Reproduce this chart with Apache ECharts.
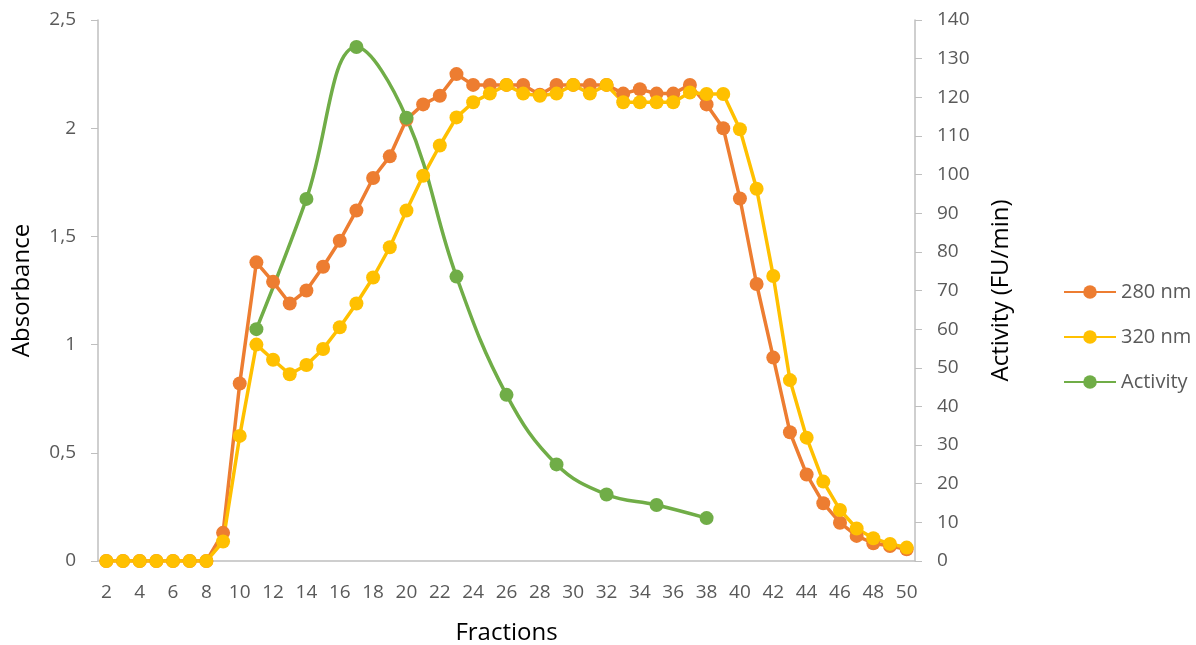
<!DOCTYPE html>
<html>
<head>
<meta charset="utf-8">
<script src="https://cdn.jsdelivr.net/npm/echarts@6/dist/echarts.min.js"></script>
<style>
  html, body { margin: 0; padding: 0; background: #fff; }
  #chart { width: 1196px; height: 645px; }
</style>
</head>
<body>
<div id="chart"></div>
<script>
  // fractions 2..50
  var fractions = [];
  for (var f = 2; f <= 50; f++) fractions.push(String(f));

  var abs280 = [0, 0, 0, 0, 0, 0, 0, 0.13, 0.82, 1.38, 1.29, 1.19, 1.25, 1.36, 1.48, 1.62, 1.77, 1.87, 2.04, 2.11, 2.15, 2.25,
    2.2, 2.2, 2.2, 2.2, 2.155, 2.2, 2.2, 2.2, 2.2, 2.16, 2.18, 2.16, 2.16, 2.2, 2.11, 2.0, 1.675, 1.28, 0.94, 0.595,
    0.4, 0.267, 0.177, 0.116, 0.082, 0.069, 0.054];

  var abs320 = [0, 0, 0, 0, 0, 0, 0, 0.09, 0.578, 1.0, 0.93, 0.863, 0.906, 0.98, 1.08, 1.19, 1.31, 1.45, 1.62, 1.78, 1.92, 2.05,
    2.12, 2.16, 2.2, 2.16, 2.15, 2.16, 2.2, 2.16, 2.2, 2.12, 2.12, 2.12, 2.12, 2.165, 2.158, 2.158, 1.995, 1.72, 1.317, 0.836,
    0.57, 0.367, 0.236, 0.15, 0.105, 0.079, 0.062];

  // activity measured only on some fractions
  var activityFractions = ["11", "14", "17", "20", "23", "26", "29", "32", "35", "38"];
  var activityValues = [60, 93.7, 133, 114.7, 73.6, 43, 25, 17.2, 14.5, 11.1];

  var activity = activityFractions.map(function (c, i) {
    return [c, activityValues[i]];
  });

  var axisGray = "#BFBFBF";
  var textGray = "#595959";

  var chart = echarts.init(document.getElementById("chart"));
  chart.setOption({
    animation: false,
    textStyle: { fontFamily: "Open Sans, Noto Sans, sans-serif" },
    grid: { left: 98, right: 281, top: 20, bottom: 84, outerBoundsMode: "none" },
    legend: {
      orient: "vertical",
      left: 1058,
      top: 277,
      itemGap: 25,
      itemWidth: 52,
      itemHeight: 17,
      textStyle: { fontSize: 20, color: textGray },
      data: ["280 nm", "320 nm", "Activity"]
    },
    xAxis: {
      type: "category",
      data: fractions,
      boundaryGap: true,
      name: "Fractions",
      nameLocation: "middle",
      nameGap: 60,
      nameTextStyle: { fontSize: 24, color: "#000" },
      axisLine: { lineStyle: { color: axisGray, width: 1.5 } },
      axisTick: { alignWithLabel: false, interval: 0, length: 7, lineStyle: { color: axisGray } },
      axisLabel: { interval: 1, fontSize: 19, color: textGray, margin: 22 }
    },
    yAxis: [{
      type: "value",
      min: 0,
      max: 2.5,
      interval: 0.5,
      name: "Absorbance",
      nameLocation: "middle",
      nameGap: 64,
      nameTextStyle: { fontSize: 24, color: "#000" },
      axisLine: { show: true, lineStyle: { color: axisGray, width: 1.5 } },
      axisTick: { show: true, length: 7, lineStyle: { color: axisGray } },
      splitLine: { show: false },
      axisLabel: {
        fontSize: 19, color: textGray, margin: 22,
        formatter: function (v) { return String(v).replace(".", ","); }
      }
    }, {
      type: "value",
      min: 0,
      max: 140,
      interval: 10,
      name: "Activity (FU/min)",
      nameLocation: "middle",
      nameGap: 74,
      nameRotate: 90,
      nameTextStyle: { fontSize: 24, color: "#000" },
      axisLine: { show: true, lineStyle: { color: axisGray, width: 1.5 } },
      axisTick: { show: true, length: 7, lineStyle: { color: axisGray } },
      splitLine: { show: false },
      axisLabel: { fontSize: 19, color: textGray, margin: 22 }
    }],
    series: [{
      name: "280 nm",
      type: "line",
      data: abs280,
      yAxisIndex: 0,
      symbol: "circle",
      symbolSize: 14,
      showAllSymbol: true,
      color: "#ED7D31",
      lineStyle: { width: 3.5 }
    }, {
      name: "320 nm",
      type: "line",
      data: abs320,
      yAxisIndex: 0,
      symbol: "circle",
      symbolSize: 14,
      showAllSymbol: true,
      color: "#FFC000",
      lineStyle: { width: 3.5 }
    }, {
      name: "Activity",
      type: "line",
      data: activity,
      yAxisIndex: 1,
      smooth: 0.4,
      symbol: "circle",
      symbolSize: 14,
      showAllSymbol: true,
      color: "#70AD47",
      lineStyle: { width: 3.5 }
    }]
  });
</script>
</body>
</html>
